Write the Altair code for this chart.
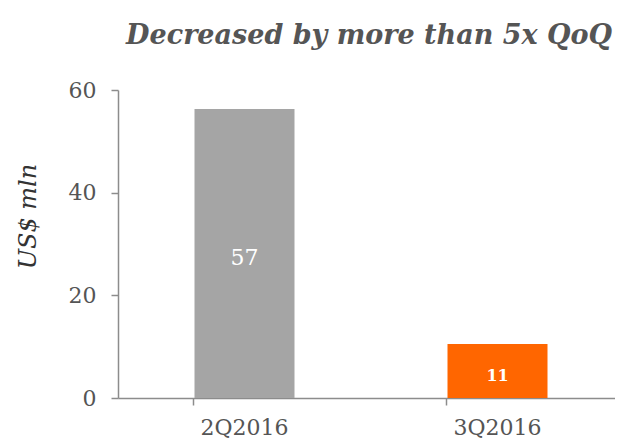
import altair as alt
import pandas as pd

categories = ["2Q2016", "3Q2016"]
values = [56.3, 10.5]
labels = ["57", "11"]
colors = ["#A5A5A5", "#FF6600"]

df = pd.DataFrame({"quarter": categories, "value": values, "label": labels, "color": colors})

x = alt.X("quarter:N", sort=categories,
          scale=alt.Scale(range=[0, 506], paddingInner=0.6, paddingOuter=0.3),
          axis=alt.Axis(title=None, labelAngle=0, labelFont="DejaVu Serif", labelFontSize=22,
                        labelColor="#555555", labelPadding=12, domainColor="#8c8c8c",
                        domainWidth=1.5, tickColor="#8c8c8c", tickWidth=1.5, tickSize=7,
                        bandPosition=0, grid=False))
y = alt.Y("value:Q", scale=alt.Scale(domain=[0, 60], nice=False),
          axis=alt.Axis(title="US$ mln", values=[0, 20, 40, 60], titleFont="DejaVu Serif",
                        titleFontStyle="italic", titleFontWeight="normal", titleFontSize=24,
                        titleColor="#333333", titleX=-90, titleY=126, titleAngle=270,
                        titleAlign="center", titleBaseline="middle",
                        labelFont="DejaVu Serif",
                        labelFontSize=22, labelColor="#555555", labelPadding=15,
                        domainColor="#8c8c8c", domainWidth=1.5, tickColor="#8c8c8c",
                        tickWidth=1.5, tickSize=7, grid=False))

base = alt.Chart(df)
bars = base.mark_bar(size=100).encode(
    x=x, y=y, color=alt.Color("color:N", scale=None))

lab1 = base.transform_filter(alt.datum.quarter == categories[0]).transform_calculate(
    mid="datum.value / 2").mark_text(color="white", font="DejaVu Serif", fontSize=22,
                                     baseline="middle", dy=5).encode(
    x=alt.X("quarter:N", sort=categories), y=alt.Y("mid:Q"), text="label:N")
lab2 = base.transform_filter(alt.datum.quarter == categories[1]).transform_calculate(
    mid="datum.value / 2").mark_text(color="white", font="DejaVu Serif", fontSize=16,
                                     fontWeight="bold", baseline="middle", dy=5).encode(
    x=alt.X("quarter:N", sort=categories), y=alt.Y("mid:Q"), text="label:N")

chart = alt.layer(bars, lab1, lab2).properties(
    width=497, height=308,
    autosize=alt.AutoSizeParams(type="none"),
    padding={"left": 110, "top": 82, "right": 0, "bottom": 47},
    title=alt.TitleParams("Decreased by more than 5x QoQ", anchor="end", frame="group",
                          font="DejaVu Serif", fontSize=27, fontWeight="bold",
                          fontStyle="italic", color="#555555", offset=29, dx=-3),
).configure_view(stroke=None)

chart.save("out.html", embed_options={"renderer": "svg", "actions": False})
